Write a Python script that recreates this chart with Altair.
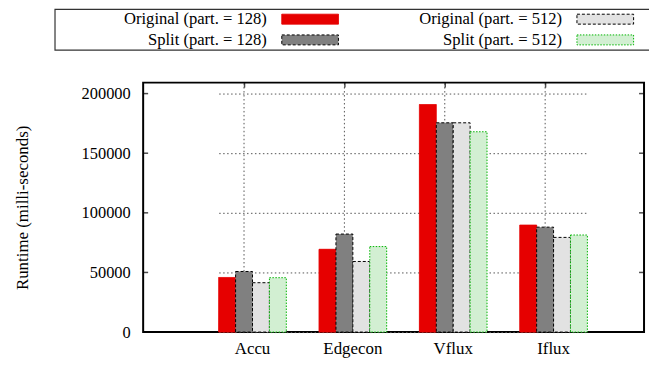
import altair as alt
import pandas as pd

categories = ["Accu", "Edgecon", "Vflux", "Iflux"]
series_names = [
    "Original (part. = 128)",
    "Split (part. = 128)",
    "Original (part. = 512)",
    "Split (part. = 512)",
]
orig_128 = [45800, 69400, 190800, 89700]
split_128 = [50800, 82200, 175500, 88000]
orig_512 = [41400, 59200, 175500, 79400]
split_512 = [45600, 71700, 168000, 81400]
y_tick_values = [0, 50000, 100000, 150000, 200000]

fill_colors = ["#e60000", "#808080", "#e2e2e2", "#d2efd2"]
stroke_colors = ["#e60000", "#000000", "#000000", "#00b400"]
stroke_dashes = [[1, 0], [3, 2], [3, 2], [1.5, 1.5]]

rows = []
for name, vals in zip(series_names, [orig_128, split_128, orig_512, split_512]):
    for cat, v in zip(categories, vals):
        rows.append({"category": cat, "series": name, "value": v})
df = pd.DataFrame(rows)

FONT = "Liberation Serif"

legend = alt.Legend(
    title="\u00a0",
    titleOrient="left",
    titlePadding=247,
    titleFontSize=17,
    orient="none",
    legendX=-89,
    legendY=-74,
    columns=2,
    columnPadding=53,
    rowPadding=3,
    padding=1,
    symbolType="M-3.353,-0.588H3.353V0.588H-3.353ZM6.29,0",
    symbolSize=289,
    symbolStrokeWidth=1,
    labelAlign="right",
    labelOffset={"expr": "-52.5"},
    labelFont=FONT,
    labelFontSize=16.7,
    labelColor="black",
    labelLimit=400,
    strokeColor="#333333",
    fillColor="white",
)

grid_dash = [1.5, 2.5]

x_axis = alt.Axis(
    title=None,
    labelAngle=0,
    ticks=False,
    domain=False,
    bandPosition=0.382,
    grid=True,
    gridDash=grid_dash,
    gridColor="#555555",
    labelPadding=9,
    labelFontSize=17,
    labelFont=FONT,
    labelColor="black",
)
y_axis = alt.Axis(
    values=y_tick_values,
    format="d",
    title="Runtime (milli-seconds)",
    titleX=-121,
    titleY=125.5,
    titleAngle=-90,
    titleAlign="center",
    titleBaseline="middle",
    titleFont=FONT,
    titleFontSize=17,
    titleFontWeight="normal",
    titleColor="black",
    ticks=False,
    domain=False,
    labelPadding=13,
    labelFontSize=16.5,
    labelFont=FONT,
    labelColor="black",
    grid=True,
    gridDash=grid_dash,
    gridColor="#555555",
)
x_scale = alt.Scale(range=[76, 447], paddingInner=0.326, paddingOuter=0)
y_scale = alt.Scale(domain=[0, 209200], nice=False, zero=True)

bars = alt.Chart(df).mark_bar(strokeWidth=1).encode(
    x=alt.X("category:N", sort=categories, scale=x_scale, axis=x_axis),
    xOffset=alt.XOffset(
        "series:N", sort=series_names, scale=alt.Scale(paddingInner=0, paddingOuter=0)
    ),
    y=alt.Y("value:Q", scale=y_scale, axis=y_axis),
    fill=alt.Fill("series:N", scale=alt.Scale(domain=series_names, range=fill_colors), legend=legend),
    stroke=alt.Stroke("series:N", scale=alt.Scale(domain=series_names, range=stroke_colors), legend=legend),
    strokeDash=alt.StrokeDash("series:N", scale=alt.Scale(domain=series_names, range=stroke_dashes), legend=legend),
)

ytick_df = pd.DataFrame({"value": y_tick_values})
left_ticks = alt.Chart(ytick_df).mark_tick(orient="horizontal", size=5, thickness=1.5, color="black").encode(
    y=alt.Y("value:Q", scale=y_scale, axis=y_axis), x=alt.value(2.5)
)
right_ticks = alt.Chart(ytick_df).mark_tick(orient="horizontal", size=5, thickness=1.5, color="black").encode(
    y=alt.Y("value:Q", scale=y_scale, axis=y_axis), x=alt.value(501.5)
)
top_ticks = alt.Chart(pd.DataFrame({"category": categories})).mark_tick(
    orient="vertical", size=5, thickness=1.5, color="black"
).encode(
    x=alt.X("category:N", sort=categories, bandPosition=0.382, scale=x_scale, axis=x_axis),
    y=alt.value(2.5),
)

chart = alt.layer(bars, left_ticks, right_ticks, top_ticks).properties(
    width=504,
    height=251,
    autosize=alt.AutoSizeParams(type="none"),
    padding={"left": 136, "top": 74, "right": 5, "bottom": 25},
).configure(font=FONT).configure_view(stroke="black", strokeWidth=2).configure_legend(strokeWidth=1.2)

chart.save("out.html", embed_options={"renderer": "svg", "actions": False})
